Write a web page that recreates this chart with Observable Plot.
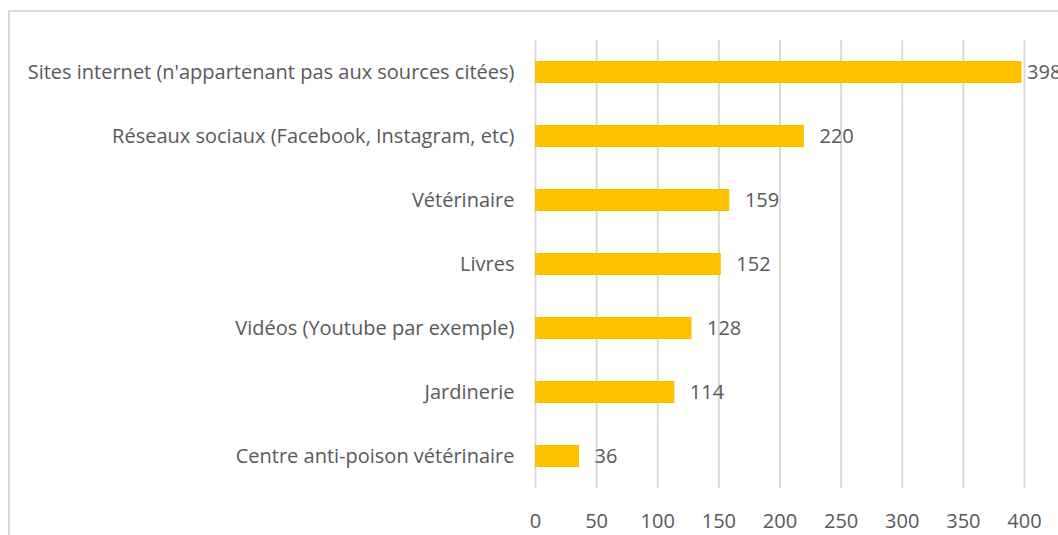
<!DOCTYPE html>
<html>
<head>
<meta charset="utf-8">
<script src="https://cdn.jsdelivr.net/npm/d3@7"></script>
<script src="https://cdn.jsdelivr.net/npm/@observablehq/plot@0.6"></script>
<style>
  html, body { margin: 0; padding: 0; background: #fff; overflow: hidden; }
  #wrap { position: relative; width: 1058px; height: 535px; }
  #frame { position: absolute; left: 8px; top: 10px; width: 1200px; height: 700px;
           border-left: 2px solid #d9d9d9; border-top: 2px solid #d9d9d9; box-sizing: border-box; }
  #chart { position: absolute; left: 0; top: 0; }
</style>
</head>
<body>
<div id="wrap"><div id="frame"></div><div id="chart"></div></div>
<script>
const categories = [
  "Sites internet (n'appartenant pas aux sources citées)",
  "Réseaux sociaux (Facebook, Instagram, etc)",
  "Vétérinaire",
  "Livres",
  "Vidéos (Youtube par exemple)",
  "Jardinerie",
  "Centre anti-poison vétérinaire"
];
const values = [398, 220, 159, 152, 128, 114, 36];
const xTicks = [0, 50, 100, 150, 200, 250, 300, 350, 400];

const data = categories.map((c, i) => ({category: c, value: values[i]}));
const maxVal = d3.max(values);
const FS = 20;

const chart = Plot.plot({
  width: 1058,
  height: 535,
  marginLeft: 535,
  marginRight: 34,
  marginTop: 40,
  marginBottom: 47,
  style: {fontFamily: "'Open Sans', sans-serif", fontSize: FS + "px", color: "#595959", background: "transparent", overflow: "visible"},
  x: {domain: [0, 400], ticks: xTicks, label: null},
  y: {domain: categories, padding: 0, label: null},
  marks: [
    Plot.gridX(xTicks, {stroke: "#d9d9d9", strokeOpacity: 1, strokeWidth: 2}),
    Plot.barX(data, {x: "value", y: "category", fill: "#FFC000", insetTop: 21, insetBottom: 21}),
    Plot.text(data.filter(d => d.value !== maxVal), {x: "value", y: "category", text: d => String(d.value), textAnchor: "start", dx: 15, fill: "#595959", fontSize: FS}),
    Plot.text(data.filter(d => d.value === maxVal), {x: "value", y: "category", text: d => String(d.value), textAnchor: "start", dx: 5, fill: "#595959", fontSize: FS}),
    Plot.axisX({ticks: xTicks, tickSize: 0, tickPadding: 25, fill: "#595959", fontSize: FS}),
    Plot.axisY({tickSize: 0, tickPadding: 21, fill: "#595959", fontSize: FS})
  ]
});
document.getElementById("chart").appendChild(chart);
</script>
</body>
</html>
